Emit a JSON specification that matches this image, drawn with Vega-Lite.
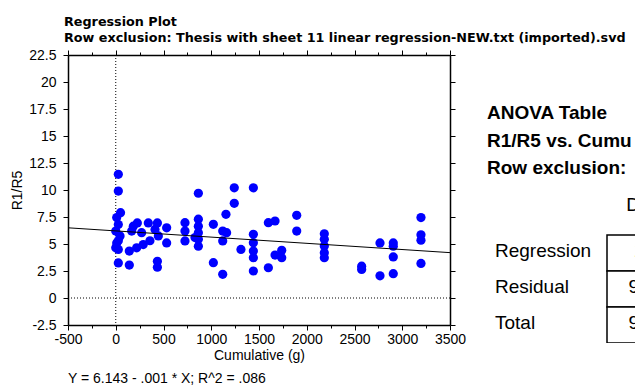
{
  "$schema": "https://vega.github.io/schema/vega-lite/v6.json",
  "padding": {"left": 10, "top": 16, "right": 0, "bottom": 0},
  "config": {"view": {"stroke": null}, "font": "Liberation Sans"},
  "datasets": {
    "points": [
      {"Cumulative": 27, "R1R5": 11.45}, {"Cumulative": 27, "R1R5": 9.9}, {"Cumulative": 50, "R1R5": 7.9}, {"Cumulative": 10, "R1R5": 7.45},
      {"Cumulative": 27, "R1R5": 6.8}, {"Cumulative": 0, "R1R5": 6.2}, {"Cumulative": 45, "R1R5": 5.75}, {"Cumulative": 27, "R1R5": 5.3},
      {"Cumulative": 10, "R1R5": 5.1}, {"Cumulative": 0, "R1R5": 4.65}, {"Cumulative": 27, "R1R5": 4.5}, {"Cumulative": 27, "R1R5": 3.25},
      {"Cumulative": 142, "R1R5": 3.05}, {"Cumulative": 142, "R1R5": 4.35}, {"Cumulative": 184, "R1R5": 6.65}, {"Cumulative": 226, "R1R5": 6.95},
      {"Cumulative": 167, "R1R5": 6.2}, {"Cumulative": 219, "R1R5": 4.65}, {"Cumulative": 271, "R1R5": 6.05}, {"Cumulative": 288, "R1R5": 4.95},
      {"Cumulative": 341, "R1R5": 6.95}, {"Cumulative": 358, "R1R5": 5.3}, {"Cumulative": 411, "R1R5": 6.35}, {"Cumulative": 436, "R1R5": 6.95},
      {"Cumulative": 446, "R1R5": 5.75}, {"Cumulative": 533, "R1R5": 6.5}, {"Cumulative": 533, "R1R5": 5.1}, {"Cumulative": 436, "R1R5": 3.4},
      {"Cumulative": 436, "R1R5": 2.85},
      {"Cumulative": 725, "R1R5": 6.97}, {"Cumulative": 725, "R1R5": 6.2}, {"Cumulative": 725, "R1R5": 5.28}, {"Cumulative": 865, "R1R5": 9.7},
      {"Cumulative": 865, "R1R5": 7.3}, {"Cumulative": 865, "R1R5": 6.65}, {"Cumulative": 865, "R1R5": 6.05}, {"Cumulative": 865, "R1R5": 5.45},
      {"Cumulative": 865, "R1R5": 4.8}, {"Cumulative": 830, "R1R5": 5.6}, {"Cumulative": 1022, "R1R5": 6.82}, {"Cumulative": 1022, "R1R5": 3.27},
      {"Cumulative": 1120, "R1R5": 2.19}, {"Cumulative": 1120, "R1R5": 6.2}, {"Cumulative": 1120, "R1R5": 5.28}, {"Cumulative": 1161, "R1R5": 6.05},
      {"Cumulative": 1154, "R1R5": 7.75}, {"Cumulative": 1241, "R1R5": 10.2}, {"Cumulative": 1241, "R1R5": 8.77}, {"Cumulative": 1311, "R1R5": 4.5},
      {"Cumulative": 1441, "R1R5": 10.2}, {"Cumulative": 1441, "R1R5": 5.9}, {"Cumulative": 1441, "R1R5": 5.12}, {"Cumulative": 1441, "R1R5": 4.35},
      {"Cumulative": 1441, "R1R5": 3.73}, {"Cumulative": 1441, "R1R5": 2.5}, {"Cumulative": 1598, "R1R5": 6.97}, {"Cumulative": 1668, "R1R5": 7.13},
      {"Cumulative": 1895, "R1R5": 7.66}, {"Cumulative": 1895, "R1R5": 6.2}, {"Cumulative": 1598, "R1R5": 2.8}, {"Cumulative": 1668, "R1R5": 3.98},
      {"Cumulative": 1738, "R1R5": 4.41}, {"Cumulative": 1738, "R1R5": 3.73},
      {"Cumulative": 2184, "R1R5": 5.95}, {"Cumulative": 2184, "R1R5": 5.43}, {"Cumulative": 2184, "R1R5": 4.81}, {"Cumulative": 2184, "R1R5": 4.19},
      {"Cumulative": 2184, "R1R5": 3.73}, {"Cumulative": 2575, "R1R5": 2.95}, {"Cumulative": 2575, "R1R5": 2.65}, {"Cumulative": 2767, "R1R5": 5.1},
      {"Cumulative": 2767, "R1R5": 2.05}, {"Cumulative": 2906, "R1R5": 5.1}, {"Cumulative": 2906, "R1R5": 4.8}, {"Cumulative": 2906, "R1R5": 3.8},
      {"Cumulative": 2906, "R1R5": 2.25}, {"Cumulative": 3196, "R1R5": 7.45}, {"Cumulative": 3196, "R1R5": 5.85}, {"Cumulative": 3196, "R1R5": 5.35},
      {"Cumulative": 3196, "R1R5": 3.2}
    ],
    "fit": [{"Cumulative": -500, "R1R5": 6.5}, {"Cumulative": 3500, "R1R5": 4.2}],
    "anovaTitle": [{"row": "title", "col": "Source", "text": "ANOVA Table\nR1/R5 vs. Cumulative (g)\nRow exclusion: Thesis with sheet 11 linear regression-NEW.txt (imported).svd"}],
    "header": [{"row": "hdr", "col": "DF", "value": "DF"}],
    "cells": [
      {"row": "Regression", "col": "DF", "value": "1"},
      {"row": "Residual", "col": "DF", "value": "97"},
      {"row": "Total", "col": "DF", "value": "98"}
    ]
  },
  "title": {"text": "Y = 6.143 - .001 * X; R^2 = .086", "orient": "bottom", "anchor": "start", "frame": "group", "fontSize": 14, "fontWeight": "normal", "offset": 10, "color": "black"},
  "spacing": 129,
  "bounds": "flush",
  "hconcat": [
    {
      "width": 382,
      "height": 270,
      "title": {"text": ["Regression Plot", "Row exclusion: Thesis with sheet 11 linear regression-NEW.txt (imported).svd"], "anchor": "start", "frame": "group", "font": "DejaVu Sans", "fontSize": 12.75, "fontWeight": "bold", "lineHeight": 16, "offset": 3, "dx": -4, "color": "black"},
      "layer": [
        {
          "data": {"values": [{"Cumulative": 0}]},
          "mark": {"type": "rule", "strokeDash": [1, 2], "color": "black", "strokeWidth": 1},
          "encoding": {"x": {"field": "Cumulative", "type": "quantitative", "scale": {"domain": [-500, 3500], "nice": false, "zero": false}, "axis": null}}
        },
        {
          "data": {"values": [{"R1R5": 0}]},
          "mark": {"type": "rule", "strokeDash": [1, 2], "color": "black", "strokeWidth": 1},
          "encoding": {"y": {"field": "R1R5", "type": "quantitative", "scale": {"domain": [-2.5, 22.5], "nice": false, "zero": false}, "axis": null}}
        },
        {
          "data": {"name": "points"},
          "mark": {"type": "circle", "size": 85, "color": "#0000FF", "opacity": 1},
          "encoding": {
            "x": {"field": "Cumulative", "type": "quantitative", "scale": {"domain": [-500, 3500], "nice": false, "zero": false},
              "axis": {"orient": "bottom", "values": [-500, -250, 0, 250, 500, 750, 1000, 1250, 1500, 1750, 2000, 2250, 2500, 2750, 3000, 3250, 3500],
                "labelExpr": "datum.value % 500 === 0 ? '' + datum.value : ''", "labelOverlap": false, "labelFlush": false, "labelFontSize": 14, "labelColor": "black", "labelPadding": 2,
                "tickColor": "black", "tickSize": {"condition": {"test": "datum.value % 500 === 0", "value": 5}, "value": 3},
                "domainColor": "black", "domainWidth": 1.5, "grid": false,
                "title": "Cumulative (g)", "titleFontSize": 14, "titleFontWeight": "normal", "titleColor": "black", "titlePadding": 2}},
            "y": {"field": "R1R5", "type": "quantitative", "scale": {"domain": [-2.5, 22.5], "nice": false, "zero": false},
              "axis": {"orient": "left", "values": [-2.5, 0, 2.5, 5, 7.5, 10, 12.5, 15, 17.5, 20, 22.5], "labelExpr": "'' + datum.value",
                "labelFontSize": 14, "labelColor": "black", "labelPadding": 7, "labelFlush": false, "tickColor": "black", "tickSize": 5,
                "domainColor": "black", "domainWidth": 1.5, "grid": false,
                "title": "R1/R5", "titleFontSize": 14, "titleFontWeight": "normal", "titleColor": "black", "titlePadding": 4}}
          }
        },
        {
          "data": {"name": "fit"},
          "mark": {"type": "line", "color": "black", "strokeWidth": 1},
          "encoding": {
            "x": {"field": "Cumulative", "type": "quantitative", "scale": {"domain": [-500, 3500], "nice": false, "zero": false},
              "axis": {"orient": "top", "values": [-500, -250, 0, 250, 500, 750, 1000, 1250, 1500, 1750, 2000, 2250, 2500, 2750, 3000, 3250, 3500],
                "labels": false, "title": null, "tickColor": "black", "tickSize": {"condition": {"test": "datum.value % 500 === 0", "value": 5}, "value": 3},
                "domainColor": "black", "domainWidth": 1.5, "grid": false}},
            "y": {"field": "R1R5", "type": "quantitative", "scale": {"domain": [-2.5, 22.5], "nice": false, "zero": false},
              "axis": {"orient": "right", "values": [-2.5, 0, 2.5, 5, 7.5, 10, 12.5, 15, 17.5, 20, 22.5], "labels": false, "title": null,
                "tickColor": "black", "tickSize": 5, "domainColor": "black", "domainWidth": 1.5, "grid": false}}
          }
        }
      ],
      "resolve": {"axis": {"x": "independent", "y": "independent"}}
    },
    {
      "width": 56,
      "height": 288,
      "layer": [
        {
          "data": {"name": "anovaTitle"},
          "mark": {"type": "text", "align": "left", "baseline": "middle", "fontSize": 19, "fontWeight": "bold", "lineBreak": "\n", "lineHeight": 27.5, "dx": -92, "dy": -32, "limit": 148, "ellipsis": "\u200b", "color": "black"},
          "encoding": {
            "x": {"field": "col", "type": "nominal", "bandPosition": 0, "scale": {"type": "band", "domain": ["Source", "DF"], "paddingInner": 0, "paddingOuter": 0}, "axis": null},
            "y": {"field": "row", "type": "nominal", "scale": {"type": "band", "domain": ["r0", "r1", "title", "r3", "hdr", "Regression", "Residual", "Total"], "paddingInner": 0, "paddingOuter": 0}, "axis": null},
            "text": {"field": "text", "type": "nominal"}
          }
        },
        {
          "data": {"name": "cells"},
          "mark": {"type": "rect", "fill": "white", "stroke": "black", "strokeWidth": 1.5, "clip": true, "x2Offset": 6},
          "encoding": {
            "x": {"field": "col", "type": "nominal", "bandPosition": 0, "scale": {"type": "band", "domain": ["Source", "DF"], "paddingInner": 0, "paddingOuter": 0}, "axis": null},
            "x2": {"value": "width"},
            "y": {"field": "row", "type": "nominal", "scale": {"type": "band", "domain": ["r0", "r1", "title", "r3", "hdr", "Regression", "Residual", "Total"], "paddingInner": 0, "paddingOuter": 0}, "axis": null}
          }
        },
        {
          "data": {"name": "header"},
          "mark": {"type": "text", "align": "center", "baseline": "middle", "fontSize": 19, "dx": 32, "dy": -12, "clip": true, "color": "black"},
          "encoding": {
            "x": {"field": "col", "type": "nominal", "bandPosition": 0, "scale": {"type": "band", "domain": ["Source", "DF"], "paddingInner": 0, "paddingOuter": 0}, "axis": null},
            "y": {"field": "row", "type": "nominal", "scale": {"type": "band", "domain": ["r0", "r1", "title", "r3", "hdr", "Regression", "Residual", "Total"], "paddingInner": 0, "paddingOuter": 0}, "axis": null},
            "text": {"field": "value", "type": "nominal"}
          }
        },
        {
          "data": {"name": "cells"},
          "mark": {"type": "text", "align": "center", "baseline": "middle", "fontSize": 19, "dx": 32, "dy": -2, "clip": true, "color": "black"},
          "encoding": {
            "x": {"field": "col", "type": "nominal", "bandPosition": 0, "scale": {"type": "band", "domain": ["Source", "DF"], "paddingInner": 0, "paddingOuter": 0}, "axis": null},
            "y": {"field": "row", "type": "nominal", "scale": {"type": "band", "domain": ["r0", "r1", "title", "r3", "hdr", "Regression", "Residual", "Total"], "paddingInner": 0, "paddingOuter": 0}, "axis": null},
            "text": {"field": "value", "type": "nominal"}
          }
        },
        {
          "data": {"name": "cells"},
          "mark": {"type": "text", "align": "left", "baseline": "middle", "fontSize": 19, "dx": -84, "dy": -2, "color": "black"},
          "encoding": {
            "x": {"datum": "Source", "type": "nominal", "bandPosition": 0, "scale": {"type": "band", "domain": ["Source", "DF"], "paddingInner": 0, "paddingOuter": 0}, "axis": null},
            "y": {"field": "row", "type": "nominal", "scale": {"type": "band", "domain": ["r0", "r1", "title", "r3", "hdr", "Regression", "Residual", "Total"], "paddingInner": 0, "paddingOuter": 0}, "axis": null},
            "text": {"field": "row", "type": "nominal"}
          }
        }
      ]
    }
  ]
}
